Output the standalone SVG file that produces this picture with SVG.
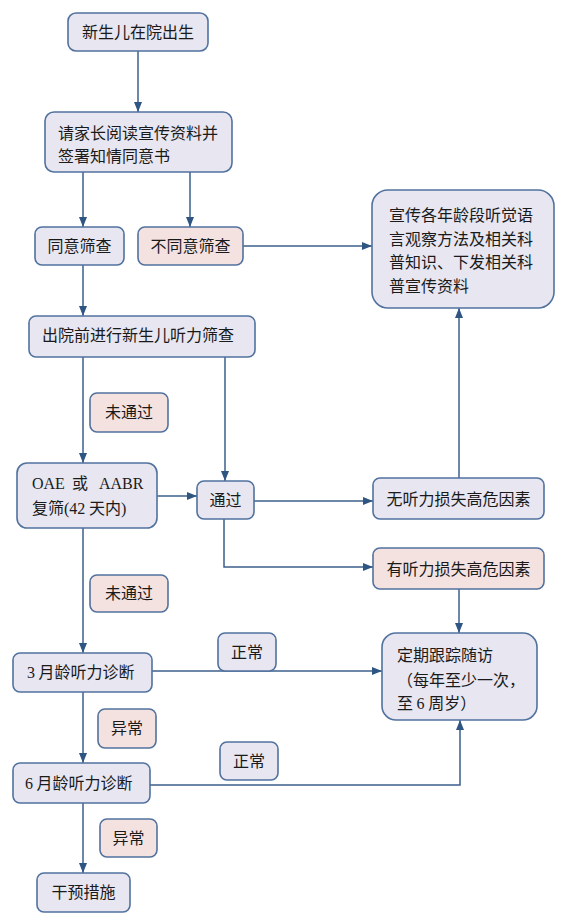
<svg xmlns="http://www.w3.org/2000/svg" width="579" height="916" viewBox="0 0 579 916">
<style>
.b{fill:#e7e6f1;stroke:#52729e;stroke-width:1.6}
.p{fill:#f4e2e1;stroke:#52729e;stroke-width:1.6}
text{font-family:"Noto Sans CJK SC","Liberation Sans",sans-serif;font-size:16px;fill:#1a1a1a}
.c{text-anchor:middle}
.l{font-family:"Liberation Serif","Noto Sans CJK SC",serif}
.e{fill:none;stroke:#3d5f8c;stroke-width:1.5}
</style>
<defs>
<marker id="a" markerUnits="userSpaceOnUse" markerWidth="10" markerHeight="10" viewBox="0 0 10 10" refX="10" refY="5" orient="auto">
<path d="M0,1 L10,5 L0,9 Z" fill="#2f5583"/>
</marker>
</defs>
<g id="connectors">
<path class="e" marker-end="url(#a)" d="M138,51 V112"/>
<path class="e" marker-end="url(#a)" d="M83,172 V227"/>
<path class="e" marker-end="url(#a)" d="M190,172 V227"/>
<path class="e" marker-end="url(#a)" d="M243,246 H372"/>
<path class="e" marker-end="url(#a)" d="M83,265 V316"/>
<path class="e" marker-end="url(#a)" d="M83,357 V463"/>
<path class="e" marker-end="url(#a)" d="M225,357 V481"/>
<path class="e" marker-end="url(#a)" d="M157,496 H197"/>
<path class="e" marker-end="url(#a)" d="M254,501 H373"/>
<path class="e" marker-end="url(#a)" d="M224,519 V567 H373"/>
<path class="e" marker-end="url(#a)" d="M459,478 V308"/>
<path class="e" marker-end="url(#a)" d="M459,589 V633"/>
<path class="e" marker-end="url(#a)" d="M83,528 V653"/>
<path class="e" marker-end="url(#a)" d="M152,671 H382"/>
<path class="e" marker-end="url(#a)" d="M83,692 V763"/>
<path class="e" marker-end="url(#a)" d="M150,785 H460 V720"/>
<path class="e" marker-end="url(#a)" d="M83,803 V873"/>
</g>
<g id="n1"><rect class="b" x="68" y="13" width="140" height="38" rx="8"/><text class="c" x="138" y="38">新生儿在院出生</text></g>
<g id="n2"><rect class="b" x="45" y="112" width="187" height="60" rx="9"/><text x="58" y="139">请家长阅读宣传资料并</text><text x="58" y="162">签署知情同意书</text></g>
<g id="n3"><rect class="b" x="35" y="227" width="89" height="38" rx="7"/><text class="c" x="79.5" y="252">同意筛查</text></g>
<g id="n4"><rect class="p" x="138" y="227" width="105" height="38" rx="7"/><text class="c" x="190.5" y="252">不同意筛查</text></g>
<g id="n5"><rect class="b" x="372" y="190" width="182" height="118" rx="16"/><text x="389" y="221">宣传各年龄段听觉语</text><text x="389" y="245">言观察方法及相关科</text><text x="389" y="268">普知识、下发相关科</text><text x="389" y="292">普宣传资料</text></g>
<g id="n6"><rect class="b" x="29" y="316" width="226" height="41" rx="7"/><text x="42" y="341">出院前进行新生儿听力筛查</text></g>
<g id="l1"><rect class="p" x="90" y="393" width="78" height="39" rx="7"/><text class="c" x="129" y="418">未通过</text></g>
<g id="n7"><rect class="b" x="17" y="463" width="140" height="65" rx="10"/><text x="32" y="489"><tspan class="l">OAE</tspan><tspan x="72">或</tspan><tspan class="l" x="99">AABR</tspan></text><text x="32" y="514">复筛<tspan class="l">(42</tspan> 天内<tspan class="l">)</tspan></text></g>
<g id="n8"><rect class="b" x="197" y="481" width="57" height="38" rx="7"/><text class="c" x="225.5" y="506">通过</text></g>
<g id="n9"><rect class="b" x="373" y="478" width="171" height="41" rx="7"/><text class="c" x="458.5" y="505">无听力损失高危因素</text></g>
<g id="n10"><rect class="p" x="373" y="548" width="171" height="41" rx="7"/><text class="c" x="458.5" y="575">有听力损失高危因素</text></g>
<g id="l2"><rect class="p" x="90" y="575" width="78" height="37" rx="7"/><text class="c" x="129" y="599">未通过</text></g>
<g id="n11"><rect class="b" x="13" y="653" width="139" height="39" rx="7"/><text x="27" y="678"><tspan class="l">3</tspan> 月龄听力诊断</text></g>
<g id="l3"><rect class="b" x="218" y="633" width="58" height="38" rx="7"/><text class="c" x="247" y="658">正常</text></g>
<g id="n12"><rect class="b" x="382" y="633" width="155" height="87" rx="14"/><text x="397" y="661">定期跟踪随访</text><text x="397" y="686">（每年至少一次，</text><text x="397" y="709">至 <tspan class="l">6</tspan> 周岁）</text></g>
<g id="l4"><rect class="p" x="98" y="709" width="58" height="39" rx="7"/><text class="c" x="127" y="734">异常</text></g>
<g id="l5"><rect class="b" x="220" y="742" width="58" height="38" rx="7"/><text class="c" x="249" y="767">正常</text></g>
<g id="n13"><rect class="b" x="13" y="763" width="137" height="40" rx="7"/><text x="25" y="789"><tspan class="l">6</tspan> 月龄听力诊断</text></g>
<g id="l6"><rect class="p" x="100" y="819" width="57" height="38" rx="7"/><text class="c" x="128.5" y="844">异常</text></g>
<g id="n14"><rect class="b" x="37" y="873" width="93" height="39" rx="7"/><text class="c" x="83.5" y="898">干预措施</text></g>
</svg>
